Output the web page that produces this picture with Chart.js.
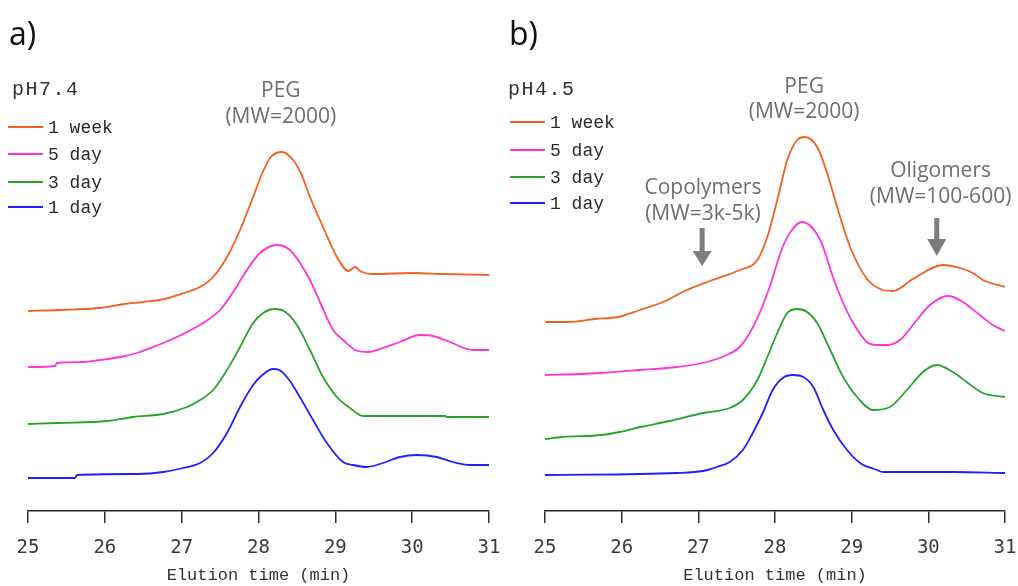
<!DOCTYPE html>
<html>
<head>
<meta charset="utf-8">
<script src="https://cdn.jsdelivr.net/npm/chart.js@4.4.1/dist/chart.umd.min.js"></script>
<style>
  html, body { margin: 0; padding: 0; background: #fff; }
  #wrap { position: relative; width: 1018px; height: 586px; overflow: hidden; }
  .pane { position: absolute; top: 0; height: 586px; }
</style>
</head>
<body>
<div id="wrap">
  <div class="pane" id="pa" style="left:0px;width:505px;"><canvas id="ca"></canvas></div>
  <div class="pane" id="pb" style="left:505px;width:513px;"><canvas id="cb"></canvas></div>
</div>
<script>
// ---------------- DATA (elution time in min, detector signal in arbitrary offset units) ----------------
const xTicks = [25, 26, 27, 28, 29, 30, 31];
const seriesNames = ['1 week', '5 day', '3 day', '1 day'];
const seriesColors = ['#f5601e', '#ff33d6', '#27a327', '#1f1fff'];

// Panel a) pH 7.4
const aWeekT = [25.0,25.42,25.92,26.26,26.50,26.78,27.07,27.24,27.41,27.59,27.76,27.93,28.05,28.16,28.31,28.45,28.55,28.67,28.84,29.02,29.17,29.26,29.32,29.49,30.01,30.40,31.0];
const aWeekV = [200,201,203,207,209,212,219,224,234,254,281,314,338,354,359,351,338,314,284,254,240,244,240,237,238,237,236];
const aPinkT = [25.0,25.35,25.38,25.72,25.94,26.20,26.42,26.63,26.85,27.07,27.30,27.50,27.67,27.85,28.02,28.24,28.41,28.54,28.67,28.80,28.97,29.10,29.26,29.43,29.62,29.84,30.10,30.27,30.49,30.79,31.0];
const aPinkV = [144,145,148,149,151,154,158,164,171,179,189,201,219,241,258,266,261,248,231,209,181,171,161,159,163,169,176,175,169,161,161];
const aGreenT = [25.0,25.39,26.03,26.37,26.76,27.07,27.24,27.41,27.59,27.76,27.93,28.06,28.21,28.35,28.50,28.67,28.84,29.02,29.19,29.36,30.43,30.45,31.0];
const aGreenV = [87,88,90,94,97,104,111,121,141,164,188,198,202,199,186,161,134,114,103,95,95,94,94];
const aBlueT = [25.0,25.61,25.64,26.43,26.76,27.02,27.24,27.41,27.59,27.76,27.93,28.05,28.19,28.27,28.40,28.50,28.71,28.89,29.10,29.23,29.41,29.62,29.84,30.06,30.32,30.53,30.75,31.0];
const aBlueV = [33,33,36,37,39,43,48,58,78,104,126,136,142,141,131,119,91,68,49,46,44,48,54,56,54,49,46,46];

// Panel b) pH 4.5
const bWeekT = [25.0,25.29,25.65,25.95,26.24,26.54,26.85,27.15,27.54,27.77,27.90,28.03,28.16,28.29,28.39,28.55,28.68,28.81,28.98,29.20,29.41,29.54,29.80,30.19,30.41,30.58,30.71,31.0];
const bWeekV = [189,189,192,194,201,209,221,230,241,251,274,311,351,371,374,364,338,304,264,232,221,220,232,246,243,238,231,224];
const bPinkT = [25.0,25.46,25.72,26.24,26.72,27.11,27.37,27.54,27.67,27.80,27.93,28.10,28.22,28.35,28.59,28.76,28.89,29.02,29.20,29.33,29.47,29.63,29.85,30.02,30.26,30.45,30.67,30.84,31.0];
const bPinkV = [136,137,138,141,144,149,156,164,178,198,224,264,281,289,271,233,208,188,169,166,166,171,191,206,215,209,196,186,180];
const bGreenT = [25.0,25.23,25.74,25.97,26.24,26.63,27.06,27.41,27.58,27.77,27.90,28.03,28.16,28.29,28.42,28.55,28.72,28.89,29.07,29.28,29.50,29.72,29.93,30.11,30.32,30.50,30.71,31.0];
const bGreenV = [72,74,76,79,84,90,98,103,111,131,154,178,198,202,199,188,161,134,114,101,104,121,139,146,139,129,118,114];
const bBlueT = [25.0,26.72,27.06,27.24,27.41,27.58,27.71,27.84,27.97,28.10,28.23,28.37,28.50,28.63,28.76,28.94,29.11,29.33,29.41,30.32,31.0];
const bBlueV = [36,38,40,44,49,61,78,98,121,133,136,134,124,101,81,61,48,41,39,39,38];

// ---------------- helpers ----------------
function pts(t, v) { return t.map((x, i) => ({ x: x, y: v[i] })); }

function makeDatasets(list) {
  return list.map((s, i) => ({
    label: seriesNames[i],
    data: pts(s[0], s[1]),
    borderColor: seriesColors[i],
    backgroundColor: seriesColors[i],
    borderWidth: 1.8,
    pointRadius: 0,
    fill: false,
    cubicInterpolationMode: 'monotone'
  }));
}

function drawArrow(ctx, x, yTop, yHead, yTip) {
  ctx.fillStyle = '#7d7d7d';
  ctx.fillRect(x - 2.5, yTop, 5, yHead - yTop + 1);
  ctx.beginPath();
  ctx.moveTo(x - 9.5, yHead);
  ctx.lineTo(x + 9.5, yHead);
  ctx.lineTo(x, yTip);
  ctx.closePath();
  ctx.fill();
}

const overlay = {
  id: 'overlay',
  afterDraw(chart, args, o) {
    const ctx = chart.ctx;
    const xs = chart.scales.x;
    ctx.save();
    // panel letter
    ctx.fillStyle = '#111';
    ctx.font = '32px "Open Sans"';
    ctx.textAlign = 'left';
    ctx.textBaseline = 'alphabetic';
    ctx.fillText(o.letter, o.letterX, 45);
    // legend title
    ctx.fillStyle = '#333';
    ctx.font = '20px "Liberation Mono"';
    ctx.letterSpacing = '1.5px';
    ctx.textBaseline = 'middle';
    ctx.fillText(o.legendTitle, o.titleX, o.titleY);
    ctx.letterSpacing = '0px';
    // legend items
    ctx.font = '18px "Liberation Mono"';
    chart.data.datasets.forEach((ds, i) => {
      const y = o.legendY[i];
      ctx.strokeStyle = ds.borderColor;
      ctx.lineWidth = 1.8;
      ctx.beginPath();
      ctx.moveTo(o.lineX0, y);
      ctx.lineTo(o.lineX1, y);
      ctx.stroke();
      ctx.fillStyle = '#2a2a2a';
      ctx.fillText(ds.label, o.textX, y + 1);
    });
    // annotations
    ctx.fillStyle = '#6e6e6e';
    ctx.font = '21px "Open Sans"';
    ctx.textAlign = 'center';
    o.notes.forEach(n => {
      ctx.fillText(n.text, xs.getPixelForValue(n.t), n.y);
    });
    (o.arrows || []).forEach(a => {
      drawArrow(ctx, xs.getPixelForValue(a.t), a.top, a.head, a.tip);
    });
    ctx.restore();
  }
};

function makeChart(id, datasets, pad, ov) {
  return new Chart(document.getElementById(id), {
    type: 'line',
    data: { datasets: datasets },
    options: {
      responsive: true,
      maintainAspectRatio: false,
      animation: false,
      events: [],
      layout: { padding: pad },
      plugins: { legend: { display: false }, tooltip: { enabled: false }, overlay: ov },
      scales: {
        x: {
          type: 'linear',
          min: xTicks[0],
          max: xTicks[xTicks.length - 1],
          afterBuildTicks: (sc) => { sc.ticks = xTicks.map(v => ({ value: v })); },
          afterFit: (sc) => { sc.height = 75; sc.paddingLeft = 0; sc.paddingRight = 0; },
          border: { display: true, color: '#2b2b2b', width: 1.5 },
          grid: { display: true, drawOnChartArea: false, drawTicks: true, tickLength: 12, color: '#2b2b2b', lineWidth: 1.5 },
          ticks: { padding: 14, color: '#3a3a3a', font: { family: '"DejaVu Sans Mono"', size: 19 } },
          title: { display: true, text: 'Elution time (min)', color: '#333', padding: 0, font: { family: '"Liberation Mono"', size: 17 } }
        },
        y: { display: false, min: 0, max: 500 }
      }
    },
    plugins: [overlay]
  });
}

makeChart('ca',
  makeDatasets([[aWeekT, aWeekV], [aPinkT, aPinkV], [aGreenT, aGreenV], [aBlueT, aBlueV]]),
  { left: 28, right: 16, top: 11, bottom: 0 },
  {
    letter: 'a)', letterX: 9,
    legendTitle: 'pH7.4', titleX: 12, titleY: 90,
    legendY: [127, 154, 182, 207], lineX0: 8, lineX1: 43, textX: 48,
    notes: [
      { text: 'PEG', t: 28.29, y: 91 },
      { text: '(MW=2000)', t: 28.29, y: 117 }
    ],
    arrows: []
  });

makeChart('cb',
  makeDatasets([[bWeekT, bWeekV], [bPinkT, bPinkV], [bGreenT, bGreenV], [bBlueT, bBlueV]]),
  { left: 40, right: 13, top: 11, bottom: 0 },
  {
    letter: 'b)', letterX: 4,
    legendTitle: 'pH4.5', titleX: 3, titleY: 90,
    legendY: [122, 150, 177, 203], lineX0: 5, lineX1: 40, textX: 45,
    notes: [
      { text: 'PEG', t: 28.38, y: 87 },
      { text: '(MW=2000)', t: 28.38, y: 112 },
      { text: 'Copolymers', t: 27.06, y: 188 },
      { text: '(MW=3k-5k)', t: 27.06, y: 214 },
      { text: 'Oligomers', t: 30.16, y: 171 },
      { text: '(MW=100-600)', t: 30.16, y: 197 }
    ],
    arrows: [
      { t: 27.05, top: 228, head: 251, tip: 266 },
      { t: 30.11, top: 218, head: 239, tip: 256 }
    ]
  });
</script>
</body>
</html>
